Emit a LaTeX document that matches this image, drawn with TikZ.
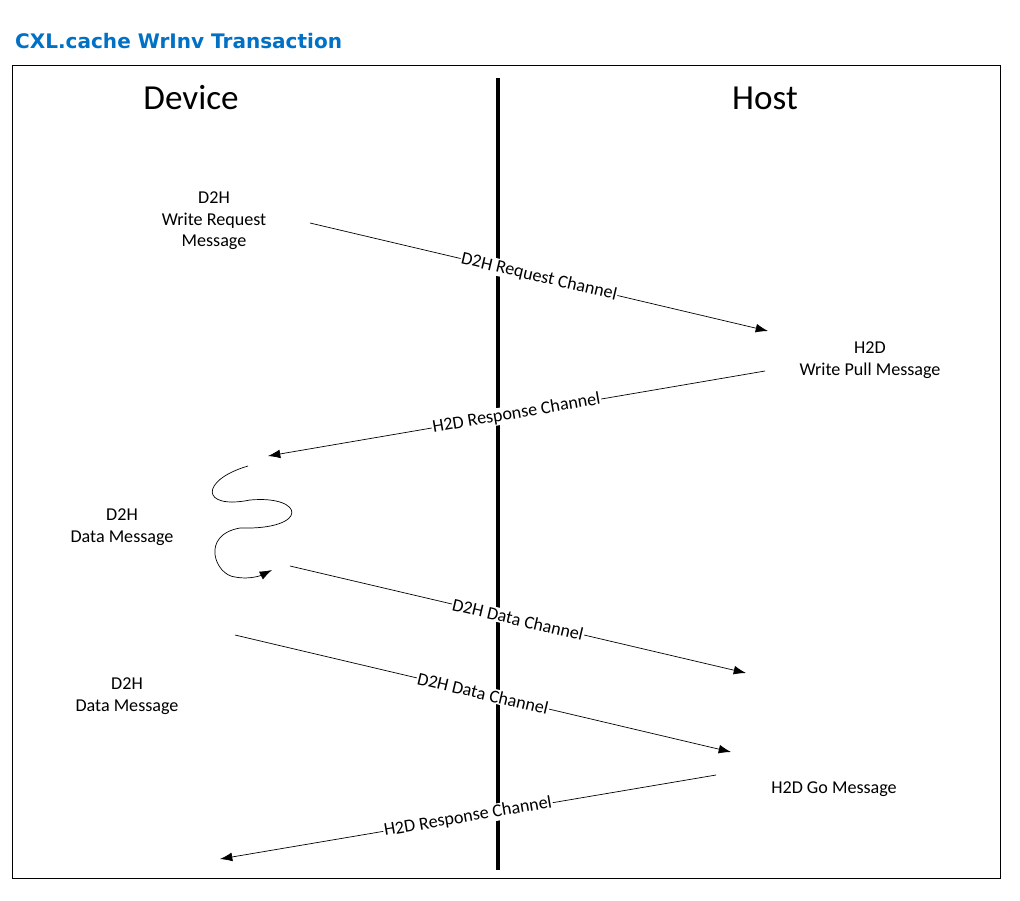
\documentclass[tikz,border=0pt]{standalone}
\usepackage{fontspec}
\setmainfont{Carlito}
\setsansfont{DejaVu Sans}
\usetikzlibrary{arrows.meta,positioning}
\definecolor{titleblue}{HTML}{0071C5}
\tikzset{
  msg/.style={align=center,font=\fontsize{10.3}{12.3}\selectfont},
  side/.style={font=\fontsize{20}{23}\selectfont},
  chan/.style={-{Latex[length=7pt,width=5pt]},thin},
  chanlabel/.style={sloped,fill=white,inner sep=0.5pt,font=\fontsize{10.3}{11}\selectfont}
}
\begin{document}
\begin{tikzpicture}[x=0.02cm,y=-0.02cm]
		\useasboundingbox (0,0) rectangle (1020,900);
		\node[anchor=west,font=\sffamily\bfseries\fontsize{11.4}{13}\selectfont,text=titleblue] (title) at (9,41) {CXL.cache WrInv Transaction};
		\draw[thin] (12,65) rectangle (1000,878);
		\draw[line width=2.8pt] (498,78) -- (498,870);
		
		\node[side] (device) at (191,98) {Device};
		\node[side] (host) at (765,98) {Host};
		
		% messages
		\node[msg] (wrreq) at (214,221) {D2H\\Write Request\\Message};
		\node[msg] (wrpull) at (870,360) {H2D\\Write Pull Message};
		\node[msg] (data1) at (122,527) {D2H\\Data Message};
		\node[msg] (data2) at (127,696) {D2H\\Data Message};
		\node[msg] (gomsg) at (834,789) {H2D Go Message};
		
		% channel end points
		\coordinate (a1) at (310,223); \coordinate (b1) at (768,331);
		\coordinate (a2) at (765,371); \coordinate (b2) at (268,456);
		\coordinate (a3) at (290,566); \coordinate (b3) at (746,673);
		\coordinate (a4) at (235,635); \coordinate (b4) at (731,752);
		\coordinate (a5) at (716,775); \coordinate (b5) at (220,859);
		
		\draw[chan] (a1) -- node[chanlabel]{D2H Request Channel} (b1);
		\draw[chan] (a2) -- node[chanlabel]{H2D Response Channel} (b2);
		\draw[chan] (a3) -- node[chanlabel]{D2H Data Channel} (b3);
		\draw[chan] (a4) -- node[chanlabel]{D2H Data Channel} (b4);
		\draw[chan] (a5) -- node[chanlabel]{H2D Response Channel} (b5);
		
		% squiggle
		\coordinate (s0) at (248,466);
		\coordinate (s1) at (272,570);
		\draw[chan] (s0) .. controls (200,480) and (200,510) .. (250,500)
			.. controls (305,495) and (310,530) .. (240,528)
			.. controls (200,535) and (215,575) .. (235,577)
			.. controls (250,580) and (262,575) .. (s1);
\end{tikzpicture}
\end{document}
